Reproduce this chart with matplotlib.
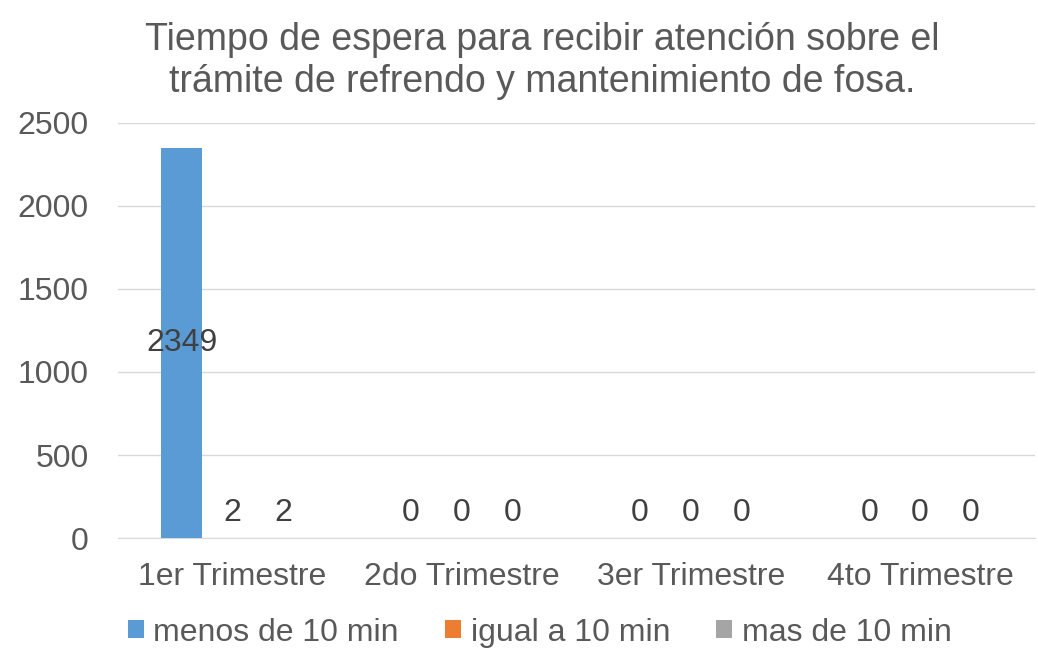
import numpy as np
import matplotlib
matplotlib.use("Agg")
import matplotlib.pyplot as plt

plt.rcParams['font.family'] = ['Liberation Sans', 'DejaVu Sans']

categories = ["1er Trimestre", "2do Trimestre", "3er Trimestre", "4to Trimestre"]
series_names = ["menos de 10 min", "igual a 10 min", "mas de 10 min"]
menos = [2349, 0, 0, 0]
igual = [2, 0, 0, 0]
mas = [2, 0, 0, 0]
colors = ["#5B9BD5", "#ED7D31", "#A5A5A5"]

fig = plt.figure(figsize=(10.38, 6.57), dpi=100)
ax = fig.add_axes([0.1137, 0.181, 0.883, 0.632])

x = np.arange(len(categories))
width = 0.178
offset = 0.222
handles = []
for i, (vals, name, col) in enumerate(zip([menos, igual, mas], series_names, colors)):
    pos = x + (i - 1) * offset
    bars = ax.bar(pos, vals, width, color=col, label=name, zorder=3)
    handles.append(bars)
    for p, v in zip(pos, vals):
        if v > 500:
            ax.text(p, v / 2, str(v), ha='center', va='center', fontsize=23, color='#404040', zorder=4)
        else:
            ax.text(p, v + 60, str(v), ha='center', va='bottom', fontsize=23, color='#404040', zorder=4)

ax.set_xlim(-0.5, 3.5)
ax.set_ylim(0, 2500)
ax.set_yticks(np.arange(0, 2501, 500))
ax.set_xticks(x)
ax.set_xticklabels(categories)
ax.tick_params(axis='both', length=0, labelsize=23, labelcolor='#595959')
ax.tick_params(axis='x', pad=17)
ax.tick_params(axis='y', pad=21)
ax.yaxis.grid(True, color='#D9D9D9', linewidth=1, zorder=0)
for s in ['top', 'right', 'left']:
    ax.spines[s].set_visible(False)
ax.spines['bottom'].set_color('#D9D9D9')

fig.text(0.522, 0.907, "Tiempo de espera para recibir atención sobre el\ntrámite de refrendo y mantenimiento de fosa.",
         ha='center', va='center', fontsize=27, color='#595959', linespacing=1.2)

fig.legend(handles=handles, labels=series_names, loc='center', bbox_to_anchor=(0.52, 0.037), ncol=3,
           frameon=False, fontsize=23, handlelength=0.5, handleheight=0.5, handletextpad=0.3,
           columnspacing=1.45, labelcolor='#595959', borderpad=0)

fig.savefig("out.png", dpi=100)
